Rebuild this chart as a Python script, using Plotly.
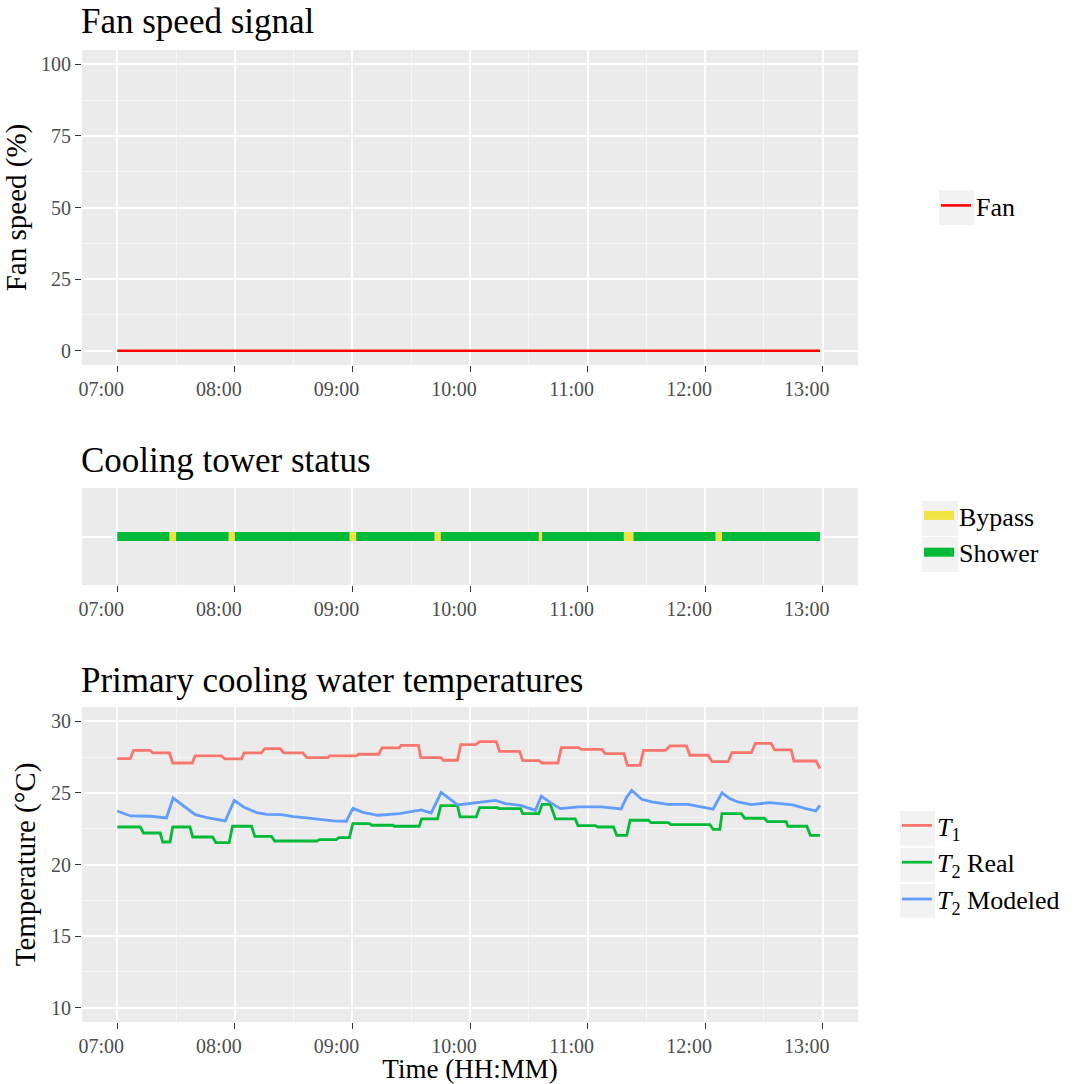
import pandas as pd
import plotly.graph_objects as go

# ---------------- data (minutes after 07:00) ----------------
BASE = pd.Timestamp("2015-06-01 07:00")

fan_min = [0, 358.6]
fan_speed = [0, 0]

status_bounds = [0, 26.6, 30, 56.8, 60, 118.5, 121.9, 161.9, 165.1, 215.1,
                 216.8, 258.5, 263.4, 305.3, 308.6, 358.6]
status_state = ["Shower", "Bypass", "Shower", "Bypass", "Shower", "Bypass",
                "Shower", "Bypass", "Shower", "Bypass", "Shower", "Bypass",
                "Shower", "Bypass", "Shower"]

t1_min = [0, 6.6, 8.3, 16.8, 18.1, 26.6, 28.3, 38.3, 39.7, 53.2, 54.9, 63.4,
          64.7, 73.6, 75.3, 83.2, 84.9, 94.7, 96.8, 107.5, 108.3, 121.9, 123.2,
          133.4, 135.1, 143.9, 144.8, 153.7, 154.9, 165.1, 166.4, 173.6, 175.3,
          182.9, 184.9, 193.4, 195.1, 205.3, 206.9, 215.1, 216.8, 224.9, 226.6,
          235.4, 236.8, 247.3, 249, 258.6, 260.3, 266.8, 268.5, 279.8, 282,
          290.5, 292.2, 301.5, 303.6, 311.7, 313.7, 323.6, 325.6, 333.7, 335.4,
          343.9, 345.3, 356.6, 358.6]
t1_val = [27.4, 27.4, 27.97, 27.97, 27.79, 27.79, 27.09, 27.09, 27.58, 27.58,
          27.37, 27.37, 27.79, 27.79, 28.09, 28.09, 27.79, 27.79, 27.46, 27.46,
          27.58, 27.58, 27.7, 27.7, 28.14, 28.14, 28.32, 28.32, 27.46, 27.46,
          27.28, 27.28, 28.37, 28.37, 28.58, 28.58, 27.9, 27.9, 27.25, 27.25,
          27.09, 27.09, 28.16, 28.16, 28.04, 28.04, 27.74, 27.74, 26.93, 26.93,
          27.97, 27.97, 28.28, 28.28, 27.63, 27.63, 27.18, 27.18, 27.81, 27.81,
          28.46, 28.46, 28.0, 28.0, 27.23, 27.23, 26.7]

t2r_min = [0, 11.7, 13.4, 21.9, 23.2, 26.9, 28.3, 37.1, 38.5, 48.6, 50.3, 57.1,
           58.8, 68.5, 70.2, 78.7, 80.3, 101.9, 103.2, 111.7, 113.1, 118.5,
           120.2, 128.6, 130, 140.5, 141.4, 154.1, 155.3, 163.4, 165.1, 173.6,
           174.9, 183.2, 184.9, 193.9, 195.1, 205.8, 206.9, 215.1, 216.8, 221,
           223.6, 233.7, 235.1, 243.9, 245.2, 253.2, 254.9, 260, 261.7, 271,
           272.4, 281.2, 282.5, 302.4, 304.1, 307.5, 308.6, 318.5, 320.2, 330.3,
           331.7, 341.3, 342.2, 351.9, 353.7, 358.6]
t2r_val = [22.62, 22.62, 22.2, 22.2, 21.57, 21.57, 22.62, 22.62, 21.92, 21.92,
           21.53, 21.53, 22.67, 22.67, 21.97, 21.97, 21.64, 21.64, 21.74, 21.74,
           21.88, 21.88, 22.86, 22.86, 22.74, 22.74, 22.67, 22.67, 23.18, 23.18,
           24.11, 24.11, 23.32, 23.32, 23.97, 23.97, 23.9, 23.9, 23.55, 23.55,
           24.2, 24.2, 23.18, 23.18, 22.72, 22.72, 22.62, 22.62, 22.04, 22.04,
           23.09, 23.09, 22.93, 22.93, 22.79, 22.79, 22.46, 22.46, 23.55, 23.55,
           23.23, 23.23, 23.0, 23.0, 22.67, 22.67, 22.04, 22.04]

t2m_min = [0, 6.8, 16.9, 25.1, 28.5, 33.9, 39.8, 45.8, 55.1, 59.7, 64.4, 71.2,
           76.3, 83.9, 89.8, 96.6, 103.4, 110.2, 116.9, 120.3, 125.4, 133, 144,
           150.8, 155.1, 160.2, 165.3, 173.7, 184.6, 193, 198.1, 205.8, 213.4,
           216.4, 220.1, 226.1, 235.4, 247.3, 257.1, 260, 262.5, 267.6, 272.7,
           281.1, 291.3, 298.1, 304, 308.6, 312.5, 316.7, 323.5, 332.8, 344.7,
           351.4, 356.5, 358.6]
t2m_val = [23.74, 23.39, 23.37, 23.25, 24.64, 24.06, 23.48, 23.27, 23.04, 24.48,
           24.02, 23.62, 23.5, 23.48, 23.34, 23.25, 23.13, 23.04, 23.02, 23.92,
           23.64, 23.44, 23.55, 23.72, 23.81, 23.6, 25.04, 24.16, 24.32, 24.48,
           24.25, 24.13, 23.78, 24.78, 24.41, 23.9, 24.02, 24.02, 23.88, 24.71,
           25.18, 24.55, 24.37, 24.2, 24.2, 24.02, 23.86, 25.0, 24.6, 24.37,
           24.18, 24.32, 24.16, 23.9, 23.74, 24.13]

fan_ticks = [0, 25, 50, 75, 100]
temp_ticks = [10, 15, 20, 25, 30]


def to_time(mins):
    return [BASE + pd.Timedelta(minutes=m) for m in mins]


# ---------------- figure ----------------
W, H = 1078, 1084
FONT = "Liberation Serif"
TICKC = "#4D4D4D"
PANEL = "#EBEBEB"


def px_x(v):
    return v / W


def px_y(v):
    return 1 - v / H


fig = go.Figure()

# Fan
fig.add_trace(go.Scatter(x=to_time(fan_min), y=fan_speed, mode="lines",
                         name="Fan", line=dict(color="#FF0000", width=2.6),
                         xaxis="x", yaxis="y", legend="legend"))

# Status
status_colors = {"Bypass": "#F0E442", "Shower": "#00BA38"}
for state in ["Bypass", "Shower"]:
    xs, ys = [], []
    for i, s in enumerate(status_state):
        if s == state:
            xs += [BASE + pd.Timedelta(minutes=status_bounds[i]),
                   BASE + pd.Timedelta(minutes=status_bounds[i + 1]), None]
            ys += [1, 1, None]
    fig.add_trace(go.Scatter(x=xs, y=ys, mode="lines", name=state,
                             line=dict(color=status_colors[state], width=9),
                             xaxis="x2", yaxis="y2", legend="legend2"))

# Temperatures
fig.add_trace(go.Scatter(x=to_time(t1_min), y=t1_val, mode="lines",
                         name="<i>T</i><sub>1</sub>",
                         line=dict(color="#F8766D", width=2.8),
                         xaxis="x3", yaxis="y3", legend="legend3"))
fig.add_trace(go.Scatter(x=to_time(t2r_min), y=t2r_val, mode="lines",
                         name="<i>T</i><sub>2</sub> Real",
                         line=dict(color="#00BA38", width=2.8),
                         xaxis="x3", yaxis="y3", legend="legend3"))
fig.add_trace(go.Scatter(x=to_time(t2m_min), y=t2m_val, mode="lines",
                         name="<i>T</i><sub>2</sub> Modeled",
                         line=dict(color="#619CFF", width=2.8),
                         xaxis="x3", yaxis="y3", legend="legend3"))

xrange = [BASE - pd.Timedelta(minutes=18), BASE + pd.Timedelta(minutes=378)]
xdom = [px_x(82), px_x(858)]


def xaxis_cfg(anchor, title=None):
    d = dict(type="date", range=xrange, domain=xdom, anchor=anchor,
             tickformat="%H:%M", dtick=3600000, tick0=BASE,
             showgrid=True, gridcolor="white", gridwidth=1.6,
             minor=dict(dtick=1800000, tick0=BASE, showgrid=True,
                        gridcolor="#F7F7F7", gridwidth=0.8, ticks=""),
             ticks="outside", ticklen=6, tickwidth=1.2, tickcolor="#333333",
             tickfont=dict(family=FONT, size=20, color=TICKC),
             ticklabelshift=-16, zeroline=False, showline=False,
             automargin=False, fixedrange=True)
    if title:
        d["title"] = dict(text=title, font=dict(family=FONT, size=27,
                                                 color="black"), standoff=6)
    return d


def yaxis_cfg(anchor, dom, rng, ticks, minor_dtick, title=None):
    d = dict(range=rng, domain=dom, anchor=anchor, tickvals=ticks,
             showgrid=True, gridcolor="white", gridwidth=1.6,
             minor=dict(dtick=minor_dtick, tick0=ticks[0] - minor_dtick,
                        showgrid=True, gridcolor="#F7F7F7", gridwidth=0.8,
                        ticks=""),
             ticks="outside", ticklen=6, tickwidth=1.2, tickcolor="#333333",
             tickfont=dict(family=FONT, size=20, color=TICKC),
             zeroline=False, showline=False, automargin=False,
             fixedrange=True)
    if title:
        d["title"] = dict(text=title, font=dict(family=FONT, size=29,
                                                 color="black"), standoff=6)
    return d


legend_common = dict(xanchor="left", yanchor="top", bgcolor="rgba(0,0,0,0)",
                     font=dict(family=FONT, size=26, color="black"),
                     itemwidth=30, tracegroupgap=0)

fig.update_layout(
    width=W, height=H, margin=dict(l=0, r=0, t=0, b=0),
    paper_bgcolor="white", plot_bgcolor=PANEL,
    font=dict(family=FONT, color="black"),
    xaxis=xaxis_cfg("y"),
    yaxis=yaxis_cfg("x", [px_y(365), px_y(50)], [-5, 105], fan_ticks, 12.5,
                    "Fan speed (%)"),
    xaxis2=xaxis_cfg("y2"),
    yaxis2=dict(range=[0, 2], domain=[px_y(585), px_y(488)], anchor="x2",
                tickvals=[1], showticklabels=False, ticks="",
                showgrid=True, gridcolor="white", gridwidth=1.6,
                zeroline=False, automargin=False, fixedrange=True),
    xaxis3=xaxis_cfg("y3", "Time (HH:MM)"),
    yaxis3=yaxis_cfg("x3", [px_y(1022), px_y(707)], [9, 31], temp_ticks, 2.5,
                     "Temperature (°C)"),
    legend=dict(x=px_x(936), y=px_y(182), **legend_common),
    legend2=dict(x=px_x(919), y=px_y(492), **legend_common),
    legend3=dict(x=px_x(897), y=px_y(802), **legend_common),
    showlegend=True,
)

# Panel titles
for text, ycen in [("Fan speed signal", 22), ("Cooling tower status", 461),
                   ("Primary cooling water temperatures", 680)]:
    fig.add_annotation(text=text, xref="paper", yref="paper", x=px_x(79),
                       y=px_y(ycen), xanchor="left", yanchor="middle",
                       showarrow=False,
                       font=dict(family=FONT, size=35, color="black"))

# Legend key backgrounds
key_boxes = [(939, 190, 974, 225),
             (922, 501, 958, 536), (922, 537, 958, 572),
             (900, 811, 935, 846), (900, 848, 935, 882), (900, 884, 935, 918)]
for x0, y0, x1, y1 in key_boxes:
    fig.add_shape(type="rect", xref="paper", yref="paper",
                  x0=px_x(x0), x1=px_x(x1), y0=px_y(y1), y1=px_y(y0),
                  fillcolor="#F2F2F2", line=dict(width=0), layer="below")

fig.write_html("out.html")
